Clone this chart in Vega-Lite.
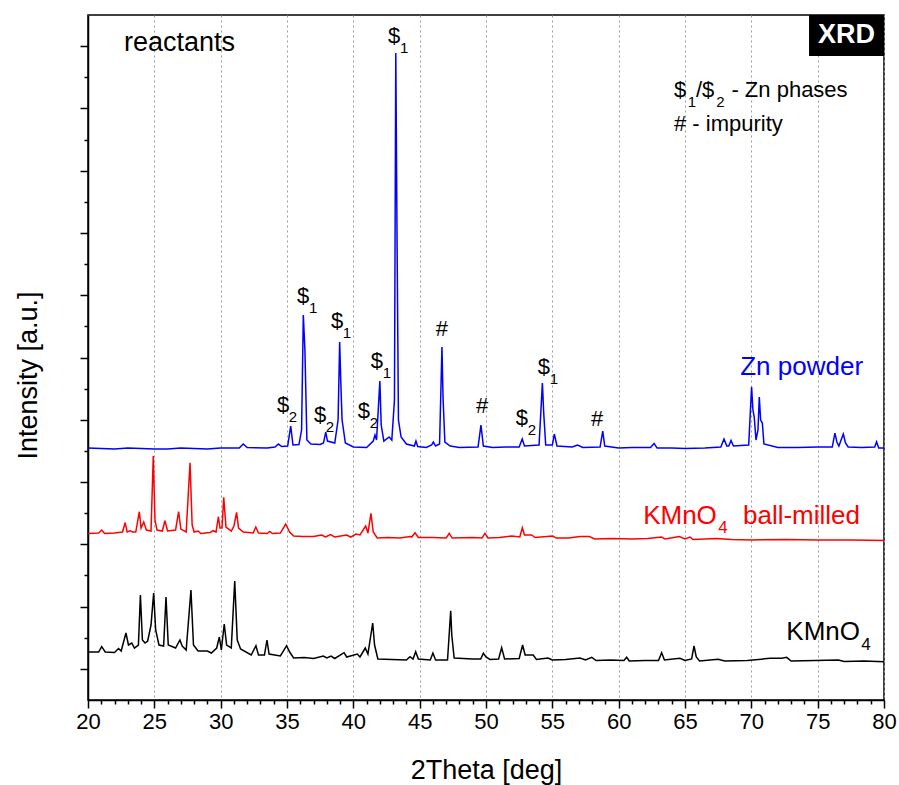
{
  "$schema": "https://vega.github.io/schema/vega-lite/v6.json",
  "width": 796,
  "height": 685,
  "autosize": {"type": "none"},
  "padding": {"left": 88, "top": 15, "right": 15, "bottom": 85},
  "background": "white",
  "config": {
    "font": "Liberation Sans",
    "view": {"stroke": "black", "strokeWidth": 1.5},
    "axis": {"domainColor": "black", "domainWidth": 1.5, "tickColor": "black", "tickWidth": 1.5, "labelColor": "black", "titleColor": "black", "titleFontWeight": "normal", "labelFont": "Liberation Sans", "titleFont": "Liberation Sans"}
  },
  "datasets": {
    "xrd": [
      {"s":"Zn powder","x":20.0,"y":8.092},{"s":"Zn powder","x":21,"y":8.076},{"s":"Zn powder","x":22,"y":8.060},{"s":"Zn powder","x":23,"y":8.092},{"s":"Zn powder","x":24,"y":8.076},{"s":"Zn powder","x":25,"y":8.060},{"s":"Zn powder","x":26,"y":8.060},{"s":"Zn powder","x":27,"y":8.092},{"s":"Zn powder","x":28,"y":8.076},{"s":"Zn powder","x":29,"y":8.060},{"s":"Zn powder","x":30,"y":8.092},{"s":"Zn powder","x":31.4,"y":8.092},{"s":"Zn powder","x":31.7,"y":8.221},{"s":"Zn powder","x":32.0,"y":8.109},{"s":"Zn powder","x":33.5,"y":8.092},{"s":"Zn powder","x":34.1,"y":8.125},{"s":"Zn powder","x":34.35,"y":8.221},{"s":"Zn powder","x":34.6,"y":8.141},{"s":"Zn powder","x":35.05,"y":8.157},{"s":"Zn powder","x":35.28,"y":8.799},{"s":"Zn powder","x":35.45,"y":8.189},{"s":"Zn powder","x":35.9,"y":8.205},{"s":"Zn powder","x":36.1,"y":8.671},{"s":"Zn powder","x":36.23,"y":12.364},{"s":"Zn powder","x":36.35,"y":11.240},{"s":"Zn powder","x":36.5,"y":8.349},{"s":"Zn powder","x":36.8,"y":8.221},{"s":"Zn powder","x":37.5,"y":8.205},{"s":"Zn powder","x":37.75,"y":8.253},{"s":"Zn powder","x":37.92,"y":8.606},{"s":"Zn powder","x":38.05,"y":8.317},{"s":"Zn powder","x":38.6,"y":8.253},{"s":"Zn powder","x":38.85,"y":8.992},{"s":"Zn powder","x":38.97,"y":11.496},{"s":"Zn powder","x":39.05,"y":10.276},{"s":"Zn powder","x":39.15,"y":8.992},{"s":"Zn powder","x":39.4,"y":8.253},{"s":"Zn powder","x":40.0,"y":8.125},{"s":"Zn powder","x":41.0,"y":8.109},{"s":"Zn powder","x":41.5,"y":8.317},{"s":"Zn powder","x":41.63,"y":8.510},{"s":"Zn powder","x":41.75,"y":8.349},{"s":"Zn powder","x":42.0,"y":10.244},{"s":"Zn powder","x":42.1,"y":8.831},{"s":"Zn powder","x":42.3,"y":8.317},{"s":"Zn powder","x":42.7,"y":8.446},{"s":"Zn powder","x":42.9,"y":8.349},{"s":"Zn powder","x":43.1,"y":9.634},{"s":"Zn powder","x":43.2,"y":20.777},{"s":"Zn powder","x":43.3,"y":14.515},{"s":"Zn powder","x":43.4,"y":8.992},{"s":"Zn powder","x":43.6,"y":8.446},{"s":"Zn powder","x":44.0,"y":8.221},{"s":"Zn powder","x":44.6,"y":8.157},{"s":"Zn powder","x":44.72,"y":8.317},{"s":"Zn powder","x":44.85,"y":8.141},{"s":"Zn powder","x":45.5,"y":8.109},{"s":"Zn powder","x":45.9,"y":8.189},{"s":"Zn powder","x":46.03,"y":8.285},{"s":"Zn powder","x":46.2,"y":8.157},{"s":"Zn powder","x":46.5,"y":8.221},{"s":"Zn powder","x":46.68,"y":11.336},{"s":"Zn powder","x":46.76,"y":9.730},{"s":"Zn powder","x":46.9,"y":8.285},{"s":"Zn powder","x":47.3,"y":8.157},{"s":"Zn powder","x":48,"y":8.109},{"s":"Zn powder","x":49.4,"y":8.125},{"s":"Zn powder","x":49.62,"y":8.831},{"s":"Zn powder","x":49.8,"y":8.157},{"s":"Zn powder","x":50.5,"y":8.109},{"s":"Zn powder","x":51.5,"y":8.125},{"s":"Zn powder","x":52.5,"y":8.125},{"s":"Zn powder","x":52.73,"y":8.382},{"s":"Zn powder","x":52.9,"y":8.157},{"s":"Zn powder","x":54.0,"y":8.189},{"s":"Zn powder","x":54.25,"y":10.180},{"s":"Zn powder","x":54.35,"y":9.216},{"s":"Zn powder","x":54.5,"y":8.189},{"s":"Zn powder","x":55.0,"y":8.189},{"s":"Zn powder","x":55.15,"y":8.542},{"s":"Zn powder","x":55.35,"y":8.157},{"s":"Zn powder","x":56.5,"y":8.125},{"s":"Zn powder","x":56.9,"y":8.189},{"s":"Zn powder","x":57.3,"y":8.109},{"s":"Zn powder","x":58.6,"y":8.125},{"s":"Zn powder","x":58.8,"y":8.638},{"s":"Zn powder","x":58.95,"y":8.157},{"s":"Zn powder","x":60,"y":8.092},{"s":"Zn powder","x":61,"y":8.109},{"s":"Zn powder","x":62.4,"y":8.109},{"s":"Zn powder","x":62.67,"y":8.237},{"s":"Zn powder","x":62.9,"y":8.092},{"s":"Zn powder","x":64,"y":8.092},{"s":"Zn powder","x":65,"y":8.076},{"s":"Zn powder","x":66.5,"y":8.092},{"s":"Zn powder","x":67.7,"y":8.125},{"s":"Zn powder","x":67.94,"y":8.382},{"s":"Zn powder","x":68.15,"y":8.157},{"s":"Zn powder","x":68.3,"y":8.157},{"s":"Zn powder","x":68.47,"y":8.333},{"s":"Zn powder","x":68.65,"y":8.157},{"s":"Zn powder","x":69.8,"y":8.189},{"s":"Zn powder","x":70.02,"y":10.051},{"s":"Zn powder","x":70.12,"y":9.313},{"s":"Zn powder","x":70.22,"y":9.088},{"s":"Zn powder","x":70.35,"y":8.349},{"s":"Zn powder","x":70.5,"y":8.671},{"s":"Zn powder","x":70.6,"y":9.730},{"s":"Zn powder","x":70.7,"y":8.992},{"s":"Zn powder","x":70.83,"y":8.895},{"s":"Zn powder","x":70.95,"y":8.221},{"s":"Zn powder","x":72,"y":8.109},{"s":"Zn powder","x":73.5,"y":8.109},{"s":"Zn powder","x":75,"y":8.125},{"s":"Zn powder","x":76.1,"y":8.125},{"s":"Zn powder","x":76.3,"y":8.574},{"s":"Zn powder","x":76.45,"y":8.285},{"s":"Zn powder","x":76.6,"y":8.157},{"s":"Zn powder","x":76.93,"y":8.542},{"s":"Zn powder","x":77.1,"y":8.253},{"s":"Zn powder","x":77.3,"y":8.125},{"s":"Zn powder","x":78.3,"y":8.109},{"s":"Zn powder","x":79.3,"y":8.125},{"s":"Zn powder","x":79.44,"y":8.295},{"s":"Zn powder","x":79.6,"y":8.092},{"s":"Zn powder","x":80,"y":8.092},

      {"s":"KMnO4 ball-milled","x":20.0,"y":5.347},{"s":"KMnO4 ball-milled","x":20.8,"y":5.363},{"s":"KMnO4 ball-milled","x":21.03,"y":5.459},{"s":"KMnO4 ball-milled","x":21.25,"y":5.347},{"s":"KMnO4 ball-milled","x":22.0,"y":5.363},{"s":"KMnO4 ball-milled","x":22.6,"y":5.395},{"s":"KMnO4 ball-milled","x":22.8,"y":5.694},{"s":"KMnO4 ball-milled","x":22.95,"y":5.395},{"s":"KMnO4 ball-milled","x":23.17,"y":5.437},{"s":"KMnO4 ball-milled","x":23.35,"y":5.395},{"s":"KMnO4 ball-milled","x":23.6,"y":5.395},{"s":"KMnO4 ball-milled","x":23.87,"y":6.047},{"s":"KMnO4 ball-milled","x":24.0,"y":5.523},{"s":"KMnO4 ball-milled","x":24.2,"y":5.716},{"s":"KMnO4 ball-milled","x":24.4,"y":5.459},{"s":"KMnO4 ball-milled","x":24.75,"y":5.427},{"s":"KMnO4 ball-milled","x":24.92,"y":7.836},{"s":"KMnO4 ball-milled","x":25.05,"y":5.780},{"s":"KMnO4 ball-milled","x":25.2,"y":5.459},{"s":"KMnO4 ball-milled","x":25.6,"y":5.427},{"s":"KMnO4 ball-milled","x":25.8,"y":5.758},{"s":"KMnO4 ball-milled","x":26.0,"y":5.427},{"s":"KMnO4 ball-milled","x":26.6,"y":5.459},{"s":"KMnO4 ball-milled","x":26.83,"y":6.047},{"s":"KMnO4 ball-milled","x":27.0,"y":5.491},{"s":"KMnO4 ball-milled","x":27.4,"y":5.395},{"s":"KMnO4 ball-milled","x":27.69,"y":7.620},{"s":"KMnO4 ball-milled","x":27.85,"y":5.620},{"s":"KMnO4 ball-milled","x":28.0,"y":5.395},{"s":"KMnO4 ball-milled","x":28.3,"y":5.427},{"s":"KMnO4 ball-milled","x":28.5,"y":5.347},{"s":"KMnO4 ball-milled","x":29.2,"y":5.379},{"s":"KMnO4 ball-milled","x":29.45,"y":5.437},{"s":"KMnO4 ball-milled","x":29.65,"y":5.395},{"s":"KMnO4 ball-milled","x":29.83,"y":5.886},{"s":"KMnO4 ball-milled","x":29.95,"y":5.523},{"s":"KMnO4 ball-milled","x":30.1,"y":5.523},{"s":"KMnO4 ball-milled","x":30.23,"y":6.509},{"s":"KMnO4 ball-milled","x":30.4,"y":5.556},{"s":"KMnO4 ball-milled","x":30.8,"y":5.427},{"s":"KMnO4 ball-milled","x":31.0,"y":5.588},{"s":"KMnO4 ball-milled","x":31.2,"y":6.028},{"s":"KMnO4 ball-milled","x":31.35,"y":5.523},{"s":"KMnO4 ball-milled","x":31.7,"y":5.395},{"s":"KMnO4 ball-milled","x":32.45,"y":5.363},{"s":"KMnO4 ball-milled","x":32.65,"y":5.556},{"s":"KMnO4 ball-milled","x":32.85,"y":5.363},{"s":"KMnO4 ball-milled","x":33.5,"y":5.347},{"s":"KMnO4 ball-milled","x":33.7,"y":5.411},{"s":"KMnO4 ball-milled","x":33.9,"y":5.347},{"s":"KMnO4 ball-milled","x":34.5,"y":5.363},{"s":"KMnO4 ball-milled","x":34.9,"y":5.652},{"s":"KMnO4 ball-milled","x":35.2,"y":5.395},{"s":"KMnO4 ball-milled","x":35.5,"y":5.267},{"s":"KMnO4 ball-milled","x":36.2,"y":5.250},{"s":"KMnO4 ball-milled","x":37.0,"y":5.250},{"s":"KMnO4 ball-milled","x":37.61,"y":5.299},{"s":"KMnO4 ball-milled","x":37.9,"y":5.234},{"s":"KMnO4 ball-milled","x":38.29,"y":5.315},{"s":"KMnO4 ball-milled","x":38.6,"y":5.234},{"s":"KMnO4 ball-milled","x":39.5,"y":5.299},{"s":"KMnO4 ball-milled","x":39.8,"y":5.234},{"s":"KMnO4 ball-milled","x":40.2,"y":5.331},{"s":"KMnO4 ball-milled","x":40.5,"y":5.299},{"s":"KMnO4 ball-milled","x":40.93,"y":5.588},{"s":"KMnO4 ball-milled","x":41.1,"y":5.363},{"s":"KMnO4 ball-milled","x":41.33,"y":5.995},{"s":"KMnO4 ball-milled","x":41.5,"y":5.395},{"s":"KMnO4 ball-milled","x":41.8,"y":5.202},{"s":"KMnO4 ball-milled","x":42.6,"y":5.218},{"s":"KMnO4 ball-milled","x":43.5,"y":5.202},{"s":"KMnO4 ball-milled","x":44.27,"y":5.250},{"s":"KMnO4 ball-milled","x":44.4,"y":5.234},{"s":"KMnO4 ball-milled","x":44.65,"y":5.372},{"s":"KMnO4 ball-milled","x":44.9,"y":5.218},{"s":"KMnO4 ball-milled","x":46.0,"y":5.218},{"s":"KMnO4 ball-milled","x":47.0,"y":5.202},{"s":"KMnO4 ball-milled","x":47.23,"y":5.353},{"s":"KMnO4 ball-milled","x":47.45,"y":5.202},{"s":"KMnO4 ball-milled","x":49.0,"y":5.218},{"s":"KMnO4 ball-milled","x":49.7,"y":5.202},{"s":"KMnO4 ball-milled","x":49.92,"y":5.353},{"s":"KMnO4 ball-milled","x":50.15,"y":5.202},{"s":"KMnO4 ball-milled","x":51.0,"y":5.218},{"s":"KMnO4 ball-milled","x":51.94,"y":5.267},{"s":"KMnO4 ball-milled","x":52.55,"y":5.234},{"s":"KMnO4 ball-milled","x":52.74,"y":5.533},{"s":"KMnO4 ball-milled","x":52.9,"y":5.299},{"s":"KMnO4 ball-milled","x":53.44,"y":5.299},{"s":"KMnO4 ball-milled","x":53.7,"y":5.218},{"s":"KMnO4 ball-milled","x":55.03,"y":5.267},{"s":"KMnO4 ball-milled","x":55.3,"y":5.202},{"s":"KMnO4 ball-milled","x":56.2,"y":5.202},{"s":"KMnO4 ball-milled","x":57.09,"y":5.250},{"s":"KMnO4 ball-milled","x":57.79,"y":5.250},{"s":"KMnO4 ball-milled","x":58.2,"y":5.170},{"s":"KMnO4 ball-milled","x":59.5,"y":5.186},{"s":"KMnO4 ball-milled","x":61,"y":5.170},{"s":"KMnO4 ball-milled","x":62.2,"y":5.186},{"s":"KMnO4 ball-milled","x":63.24,"y":5.234},{"s":"KMnO4 ball-milled","x":63.5,"y":5.170},{"s":"KMnO4 ball-milled","x":64.57,"y":5.250},{"s":"KMnO4 ball-milled","x":65.0,"y":5.170},{"s":"KMnO4 ball-milled","x":65.38,"y":5.234},{"s":"KMnO4 ball-milled","x":65.6,"y":5.154},{"s":"KMnO4 ball-milled","x":67.39,"y":5.186},{"s":"KMnO4 ball-milled","x":68.5,"y":5.154},{"s":"KMnO4 ball-milled","x":70,"y":5.138},{"s":"KMnO4 ball-milled","x":72.5,"y":5.154},{"s":"KMnO4 ball-milled","x":75,"y":5.138},{"s":"KMnO4 ball-milled","x":77.5,"y":5.138},{"s":"KMnO4 ball-milled","x":80,"y":5.122},

      {"s":"KMnO4","x":20.0,"y":1.541},{"s":"KMnO4","x":20.8,"y":1.541},{"s":"KMnO4","x":21.03,"y":1.712},{"s":"KMnO4","x":21.3,"y":1.541},{"s":"KMnO4","x":22.0,"y":1.525},{"s":"KMnO4","x":22.3,"y":1.654},{"s":"KMnO4","x":22.5,"y":1.574},{"s":"KMnO4","x":22.86,"y":2.152},{"s":"KMnO4","x":23.05,"y":1.766},{"s":"KMnO4","x":23.3,"y":1.830},{"s":"KMnO4","x":23.5,"y":1.670},{"s":"KMnO4","x":23.8,"y":1.766},{"s":"KMnO4","x":23.95,"y":3.372},{"s":"KMnO4","x":24.1,"y":1.927},{"s":"KMnO4","x":24.3,"y":1.830},{"s":"KMnO4","x":24.5,"y":1.895},{"s":"KMnO4","x":24.75,"y":2.408},{"s":"KMnO4","x":24.95,"y":3.436},{"s":"KMnO4","x":25.1,"y":2.248},{"s":"KMnO4","x":25.35,"y":1.766},{"s":"KMnO4","x":25.7,"y":1.734},{"s":"KMnO4","x":25.88,"y":3.308},{"s":"KMnO4","x":26.05,"y":1.766},{"s":"KMnO4","x":26.6,"y":1.670},{"s":"KMnO4","x":26.93,"y":1.927},{"s":"KMnO4","x":27.1,"y":1.734},{"s":"KMnO4","x":27.4,"y":1.606},{"s":"KMnO4","x":27.76,"y":3.532},{"s":"KMnO4","x":27.95,"y":1.766},{"s":"KMnO4","x":28.3,"y":1.574},{"s":"KMnO4","x":29.0,"y":1.574},{"s":"KMnO4","x":29.3,"y":1.509},{"s":"KMnO4","x":29.7,"y":1.670},{"s":"KMnO4","x":29.9,"y":2.023},{"s":"KMnO4","x":30.05,"y":1.606},{"s":"KMnO4","x":30.27,"y":2.441},{"s":"KMnO4","x":30.45,"y":1.766},{"s":"KMnO4","x":30.8,"y":1.670},{"s":"KMnO4","x":31.06,"y":3.821},{"s":"KMnO4","x":31.25,"y":1.927},{"s":"KMnO4","x":31.5,"y":1.638},{"s":"KMnO4","x":32.3,"y":1.445},{"s":"KMnO4","x":32.66,"y":1.744},{"s":"KMnO4","x":32.85,"y":1.445},{"s":"KMnO4","x":33.3,"y":1.445},{"s":"KMnO4","x":33.49,"y":1.927},{"s":"KMnO4","x":33.65,"y":1.477},{"s":"KMnO4","x":34.5,"y":1.413},{"s":"KMnO4","x":34.97,"y":1.744},{"s":"KMnO4","x":35.2,"y":1.541},{"s":"KMnO4","x":35.5,"y":1.349},{"s":"KMnO4","x":36.3,"y":1.365},{"s":"KMnO4","x":37.0,"y":1.333},{"s":"KMnO4","x":37.74,"y":1.413},{"s":"KMnO4","x":38.0,"y":1.349},{"s":"KMnO4","x":38.32,"y":1.413},{"s":"KMnO4","x":38.6,"y":1.333},{"s":"KMnO4","x":39.3,"y":1.519},{"s":"KMnO4","x":39.5,"y":1.381},{"s":"KMnO4","x":40.3,"y":1.477},{"s":"KMnO4","x":40.5,"y":1.381},{"s":"KMnO4","x":40.9,"y":1.670},{"s":"KMnO4","x":41.1,"y":1.477},{"s":"KMnO4","x":41.46,"y":2.473},{"s":"KMnO4","x":41.6,"y":1.766},{"s":"KMnO4","x":41.85,"y":1.317},{"s":"KMnO4","x":42.9,"y":1.301},{"s":"KMnO4","x":44.0,"y":1.285},{"s":"KMnO4","x":44.27,"y":1.390},{"s":"KMnO4","x":44.5,"y":1.317},{"s":"KMnO4","x":44.7,"y":1.551},{"s":"KMnO4","x":44.9,"y":1.317},{"s":"KMnO4","x":45.8,"y":1.285},{"s":"KMnO4","x":46.0,"y":1.509},{"s":"KMnO4","x":46.2,"y":1.285},{"s":"KMnO4","x":47.1,"y":1.285},{"s":"KMnO4","x":47.34,"y":2.868},{"s":"KMnO4","x":47.42,"y":2.087},{"s":"KMnO4","x":47.6,"y":1.349},{"s":"KMnO4","x":49.0,"y":1.317},{"s":"KMnO4","x":49.6,"y":1.317},{"s":"KMnO4","x":49.8,"y":1.500},{"s":"KMnO4","x":50.0,"y":1.381},{"s":"KMnO4","x":50.3,"y":1.301},{"s":"KMnO4","x":50.95,"y":1.317},{"s":"KMnO4","x":51.18,"y":1.680},{"s":"KMnO4","x":51.4,"y":1.317},{"s":"KMnO4","x":52.5,"y":1.333},{"s":"KMnO4","x":52.76,"y":1.766},{"s":"KMnO4","x":52.95,"y":1.445},{"s":"KMnO4","x":53.56,"y":1.445},{"s":"KMnO4","x":53.8,"y":1.301},{"s":"KMnO4","x":54.67,"y":1.349},{"s":"KMnO4","x":55,"y":1.285},{"s":"KMnO4","x":56.0,"y":1.301},{"s":"KMnO4","x":57.09,"y":1.349},{"s":"KMnO4","x":57.5,"y":1.285},{"s":"KMnO4","x":57.97,"y":1.371},{"s":"KMnO4","x":58.3,"y":1.268},{"s":"KMnO4","x":59.4,"y":1.285},{"s":"KMnO4","x":60.4,"y":1.268},{"s":"KMnO4","x":60.6,"y":1.371},{"s":"KMnO4","x":60.8,"y":1.252},{"s":"KMnO4","x":62.0,"y":1.268},{"s":"KMnO4","x":63.0,"y":1.268},{"s":"KMnO4","x":63.24,"y":1.519},{"s":"KMnO4","x":63.45,"y":1.285},{"s":"KMnO4","x":64.62,"y":1.339},{"s":"KMnO4","x":65.0,"y":1.268},{"s":"KMnO4","x":65.5,"y":1.317},{"s":"KMnO4","x":65.68,"y":1.734},{"s":"KMnO4","x":65.85,"y":1.381},{"s":"KMnO4","x":66.1,"y":1.252},{"s":"KMnO4","x":67.49,"y":1.307},{"s":"KMnO4","x":68,"y":1.252},{"s":"KMnO4","x":69.7,"y":1.268},{"s":"KMnO4","x":71.41,"y":1.339},{"s":"KMnO4","x":72.29,"y":1.339},{"s":"KMnO4","x":72.66,"y":1.371},{"s":"KMnO4","x":73,"y":1.252},{"s":"KMnO4","x":74.8,"y":1.268},{"s":"KMnO4","x":76.56,"y":1.285},{"s":"KMnO4","x":77,"y":1.236},{"s":"KMnO4","x":78.5,"y":1.252},{"s":"KMnO4","x":80,"y":1.230}
    ],
    "peaks": [
      {"x":34.70,"y":9.473,"sym":"$","sub":"2"},
      {"x":36.21,"y":12.974,"sym":"$","sub":"1"},
      {"x":37.49,"y":9.152,"sym":"$","sub":"2"},
      {"x":38.77,"y":12.171,"sym":"$","sub":"1"},
      {"x":40.80,"y":9.281,"sym":"$","sub":"2"},
      {"x":41.78,"y":10.886,"sym":"$","sub":"1"},
      {"x":43.07,"y":21.323,"sym":"$","sub":"1"},
      {"x":46.68,"y":11.914,"sym":"#","sub":""},
      {"x":49.70,"y":9.441,"sym":"#","sub":""},
      {"x":52.71,"y":9.056,"sym":"$","sub":"2"},
      {"x":54.37,"y":10.694,"sym":"$","sub":"1"},
      {"x":58.37,"y":9.024,"sym":"#","sub":""}
    ],
    "names": [
      {"t":"Zn powder","s":"Zn powder","x":78.42,"y":10.69},
      {"t":"KMnO","s":"KMnO4 ball-milled","x":67.40,"y":5.91},
      {"t":"KMnO","s":"KMnO4","x":78.19,"y":2.18}
    ],
    "namesleft": [
      {"t":"ball-milled","s":"KMnO4 ball-milled","x":69.37,"y":5.91}
    ],
    "namesubs": [
      {"t":"4","s":"KMnO4 ball-milled","x":67.86,"y":5.52},
      {"t":"4","s":"KMnO4","x":78.64,"y":1.77}
    ],
    "legend": [
      {"t":"$","x":64.17,"y":19.59},
      {"t":"/$","x":65.83,"y":19.59},
      {"t":"- Zn phases","x":68.5,"y":19.59},
      {"t":"# - impurity","x":64.17,"y":18.50}
    ],
    "legendsubs": [
      {"t":"1","x":65.20,"y":19.22},
      {"t":"2","x":67.35,"y":19.22}
    ],
    "title": [{"t":"reactants","x":22.71,"y":21.10}],
    "box": [{"x":74.35,"x2":80,"y":20.68,"y2":22,"t":"XRD","xc":77.17,"yc":21.36}]
  },
  "resolve": {"axis": {"x": "independent", "y": "independent"}},
  "layer": [
    {
      "data": {"name": "xrd"},
      "mark": {"type": "line", "strokeWidth": 1.5, "interpolate": "linear"},
      "encoding": {
        "x": {"field": "x", "type": "quantitative",
          "scale": {"domain": [20, 80], "nice": false, "zero": false},
          "axis": {"orient": "bottom", "values": [20,25,30,35,40,45,50,55,60,65,70,75,80], "tickSize": 8, "labelFontSize": 22, "labelPadding": 3, "labelFlush": false,
            "grid": true, "gridDash": [2, 3], "gridColor": "#9a9a9a", "gridWidth": 1,
            "title": "2Theta [deg]", "titleFontSize": 27, "titleBaseline": "middle", "titleY": 70}},
        "y": {"field": "y", "type": "quantitative",
          "scale": {"domain": [0, 22], "nice": false, "zero": false},
          "axis": {"orient": "left", "values": [1,3,5,7,9,11,13,15,17,19,21], "tickSize": 8, "labels": false, "grid": false,
            "title": "Intensity [a.u.]", "titleFontSize": 27, "titleBaseline": "middle", "titleX": -60, "titleY": 360}},
        "color": {"field": "s", "type": "nominal",
          "scale": {"domain": ["Zn powder", "KMnO4 ball-milled", "KMnO4"], "range": ["#0000ff", "#ff0000", "#000000"]},
          "legend": null},
        "detail": {"field": "s"}
      }
    },
    {
      "data": {"name": "peaks"},
      "mark": {"type": "text", "fontSize": 22, "align": "center", "baseline": "middle", "color": "black"},
      "encoding": {
        "x": {"field": "x", "type": "quantitative", "scale": {"domain": [20, 80], "nice": false, "zero": false},
          "axis": {"orient": "bottom", "values": [21,22,23,24,26,27,28,29,31,32,33,34,36,37,38,39,41,42,43,44,46,47,48,49,51,52,53,54,56,57,58,59,61,62,63,64,66,67,68,69,71,72,73,74,76,77,78,79], "tickSize": 4, "labels": false, "domain": false, "grid": false, "title": null}},
        "y": {"field": "y", "type": "quantitative", "scale": {"domain": [0, 22], "nice": false, "zero": false},
          "axis": {"orient": "left", "values": [2,4,6,8,10,12,14,16,18,20], "tickSize": 4, "labels": false, "domain": false, "grid": false, "title": null}},
        "text": {"field": "sym"}
      }
    },
    {
      "data": {"name": "peaks"},
      "mark": {"type": "text", "fontSize": 15, "align": "center", "baseline": "middle", "dx": 10, "dy": 12, "color": "black"},
      "encoding": {
        "x": {"field": "x", "type": "quantitative", "axis": null},
        "y": {"field": "y", "type": "quantitative", "axis": null},
        "text": {"field": "sub"}
      }
    },
    {
      "data": {"name": "names"},
      "mark": {"type": "text", "fontSize": 26, "align": "right", "baseline": "middle"},
      "encoding": {
        "x": {"field": "x", "type": "quantitative", "axis": null},
        "y": {"field": "y", "type": "quantitative", "axis": null},
        "text": {"field": "t"},
        "color": {"field": "s", "type": "nominal", "legend": null}
      }
    },
    {
      "data": {"name": "namesleft"},
      "mark": {"type": "text", "fontSize": 26, "align": "left", "baseline": "middle"},
      "encoding": {
        "x": {"field": "x", "type": "quantitative", "axis": null},
        "y": {"field": "y", "type": "quantitative", "axis": null},
        "text": {"field": "t"},
        "color": {"field": "s", "type": "nominal", "legend": null}
      }
    },
    {
      "data": {"name": "namesubs"},
      "mark": {"type": "text", "fontSize": 17, "align": "center", "baseline": "middle"},
      "encoding": {
        "x": {"field": "x", "type": "quantitative", "axis": null},
        "y": {"field": "y", "type": "quantitative", "axis": null},
        "text": {"field": "t"},
        "color": {"field": "s", "type": "nominal", "legend": null}
      }
    },
    {
      "data": {"name": "legend"},
      "mark": {"type": "text", "fontSize": 22, "align": "left", "baseline": "middle", "color": "black"},
      "encoding": {
        "x": {"field": "x", "type": "quantitative", "axis": null},
        "y": {"field": "y", "type": "quantitative", "axis": null},
        "text": {"field": "t"}
      }
    },
    {
      "data": {"name": "legendsubs"},
      "mark": {"type": "text", "fontSize": 15, "align": "left", "baseline": "middle", "color": "black"},
      "encoding": {
        "x": {"field": "x", "type": "quantitative", "axis": null},
        "y": {"field": "y", "type": "quantitative", "axis": null},
        "text": {"field": "t"}
      }
    },
    {
      "data": {"name": "title"},
      "mark": {"type": "text", "fontSize": 27, "align": "left", "baseline": "middle", "color": "black"},
      "encoding": {
        "x": {"field": "x", "type": "quantitative", "axis": null},
        "y": {"field": "y", "type": "quantitative", "axis": null},
        "text": {"field": "t"}
      }
    },
    {
      "data": {"name": "box"},
      "mark": {"type": "rect", "color": "black"},
      "encoding": {
        "x": {"field": "x", "type": "quantitative", "axis": null},
        "x2": {"field": "x2"},
        "y": {"field": "y", "type": "quantitative", "axis": null},
        "y2": {"field": "y2"}
      }
    },
    {
      "data": {"name": "box"},
      "mark": {"type": "text", "fontSize": 27, "fontWeight": "bold", "align": "center", "baseline": "middle", "color": "white"},
      "encoding": {
        "x": {"field": "xc", "type": "quantitative", "axis": null},
        "y": {"field": "yc", "type": "quantitative", "axis": null},
        "text": {"field": "t"}
      }
    }
  ]
}
